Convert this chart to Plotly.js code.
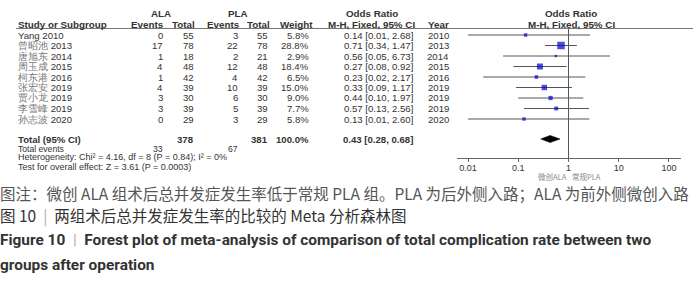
<!DOCTYPE html>
<html>
<head>
<meta charset="utf-8">
<script src="https://cdn.plot.ly/plotly-3.0.1.min.js"></script>
<style>html,body{margin:0;padding:0;background:#fff;}#chart{width:700px;height:282px;}</style>
</head>
<body>
<div id="chart"></div>
<script>
// ---- data ----
const authors    = ['Yang', '曾昭池', '唐旭东', '周玉成', '柯东港', '张宏安', '贾小龙', '李雪峰', '孙志波'];
const studyYears = [2010, 2013, 2014, 2015, 2016, 2019, 2019, 2019, 2020];
const alaEvents  = [0, 17, 1, 4, 1, 4, 3, 3, 0];
const alaTotal   = [55, 78, 18, 48, 42, 39, 30, 39, 29];
const plaEvents  = [3, 22, 2, 12, 4, 10, 6, 5, 3];
const plaTotal   = [55, 78, 21, 48, 42, 39, 30, 39, 29];
const weights    = [5.8, 28.8, 2.9, 18.4, 6.5, 15.0, 9.0, 7.7, 5.8];
const orEst      = [0.14, 0.71, 0.56, 0.27, 0.23, 0.33, 0.44, 0.57, 0.13];
const orLow      = [0.01, 0.34, 0.05, 0.08, 0.02, 0.09, 0.10, 0.13, 0.01];
const orHigh     = [2.68, 1.47, 6.73, 0.92, 2.17, 1.17, 1.97, 2.56, 2.60];
const totalALA   = 378;
const totalPLA   = 381;
const totalWeight = 100.0;
const eventsALA  = 33;
const eventsPLA  = 67;
const pooled     = {est: 0.43, low: 0.28, high: 0.68};
const heterogeneity = 'Heterogeneity: Chi² = 4.16, df = 8 (P = 0.84); I² = 0%';
const overallTest   = 'Test for overall effect: Z = 3.61 (P = 0.0003)';
const tickVals   = [0.01, 0.1, 1, 10, 100];
const tickLabels = ['0.01', '0.1', '1', '10', '100'];
const favourLeft  = '微创ALA';
const favourRight = '常规PLA';
const captionLines = [
  '图注：微创 ALA 组术后总并发症发生率低于常规 PLA 组。PLA 为后外侧入路；ALA 为前外侧微创入路',
  '图 10 &nbsp;<span style="color:#aaa">|</span>&nbsp; 两组术后总并发症发生率的比较的 Meta 分析森林图',
  'Figure 10  <span style="color:#aaa;font-weight:normal">|</span>  Forest plot of meta-analysis of comparison of total complication rate between two',
  'groups after operation'
];

// ---- layout helpers ----
const W = 700, H = 282;
const AXIS_Y = 158;          // pixel row of the x axis
const rowY = i => 35 + i * 10.5;
const TOTAL_Y = 139;
const F = 'Liberation Sans, Arial, sans-serif';
const CJK = 'Noto Sans CJK SC, sans-serif';
const fmt2 = v => v.toFixed(2);
const orText = (e, l, h) => fmt2(e) + ' [' + fmt2(l) + ', ' + fmt2(h) + ']';

const ann = [];
function txt(px, py, text, anchor, size, bold, color, family) {
  ann.push({
    xref: 'paper', yref: 'paper', x: px / W, y: 1 - py / H,
    xanchor: anchor, yanchor: 'middle', showarrow: false,
    text: bold ? '<b>' + text + '</b>' : text,
    font: {family: family || F, size: size || 9.6, color: color || '#333'},
    borderpad: 0, borderwidth: 0
  });
}

// header
txt(161, 14, 'ALA', 'center', 9.8, true);
txt(238, 14, 'PLA', 'center', 9.8, true);
txt(372, 14, 'Odds Ratio', 'center', 9.8, true);
txt(571, 14, 'Odds Ratio', 'center', 9.8, true);
txt(18, 25, 'Study or Subgroup', 'left', 9.8, true);
txt(164, 25, 'Events', 'right', 9.8, true);
txt(195, 25, 'Total', 'right', 9.8, true);
txt(240, 25, 'Events', 'right', 9.8, true);
txt(270, 25, 'Total', 'right', 9.8, true);
txt(313, 25, 'Weight', 'right', 9.8, true);
txt(415, 25, 'M-H, Fixed, 95% CI', 'right', 9.8, true);
txt(449, 25, 'Year', 'right', 9.8, true);
txt(571, 25, 'M-H, Fixed, 95% CI', 'center', 9.8, true);

// study rows
authors.forEach((a, i) => {
  const y = rowY(i);
  const isCJK = /[^\x00-\x7F]/.test(a);
  const name = isCJK
    ? '<span style="color:#777">' + a + '</span> ' + studyYears[i]
    : a + ' ' + studyYears[i];
  txt(18, y, name, 'left', 9.6, false, '#333');
  txt(163, y, String(alaEvents[i]), 'right');
  txt(194, y, String(alaTotal[i]), 'right');
  txt(238, y, String(plaEvents[i]), 'right');
  txt(268, y, String(plaTotal[i]), 'right');
  txt(309, y, weights[i].toFixed(1) + '%', 'right');
  txt(413, y, orText(orEst[i], orLow[i], orHigh[i]), 'right');
  txt(449, y, String(studyYears[i]), 'right');
});

// totals
txt(18, TOTAL_Y, 'Total (95% CI)', 'left', 9.6, true);
txt(194, TOTAL_Y, String(totalALA), 'right', 9.6, true);
txt(268, TOTAL_Y, String(totalPLA), 'right', 9.6, true);
txt(309, TOTAL_Y, totalWeight.toFixed(1) + '%', 'right', 9.6, true);
txt(413, TOTAL_Y, orText(pooled.est, pooled.low, pooled.high), 'right', 9.6, true);
txt(18, 148.5, 'Total events', 'left', 8.6);
txt(163, 148.5, String(eventsALA), 'right', 8.6);
txt(238, 148.5, String(eventsPLA), 'right', 8.6);
txt(18, 157.5, heterogeneity, 'left', 9);
txt(18, 166.5, overallTest, 'left', 9);

// favours labels
txt(567, 176.5, favourLeft, 'right', 7.5, false, '#888', CJK);
txt(572, 176.5, favourRight, 'left', 7.5, false, '#888', CJK);

// caption
txt(0, 192.5, captionLines[0], 'left', 15.5, false, '#555', CJK);
txt(0, 215, captionLines[1], 'left', 15.5, false, '#333', CJK);
txt(0, 240, captionLines[2], 'left', 15.4, true, '#333', 'Roboto, sans-serif');
txt(0, 265, captionLines[3], 'left', 15.4, true, '#333', 'Roboto, sans-serif');

// ---- traces ----
const ciX = [], ciY = [];
orEst.forEach((e, i) => { ciX.push(orLow[i], orHigh[i], null); ciY.push(rowY(i), rowY(i), null); });
const traces = [
  {type: 'scatter', mode: 'lines', x: ciX, y: ciY, line: {color: '#555', width: 1}, hoverinfo: 'skip', cliponaxis: false},
  {type: 'scatter', mode: 'markers', x: orEst, y: orEst.map((e, i) => rowY(i)),
   marker: {symbol: 'square', color: '#0000cc', size: weights.map(w => 1.4 * Math.sqrt(w)), line: {width: 0}}, cliponaxis: false},
  {type: 'scatter', mode: 'lines', fill: 'toself', fillcolor: '#000',
   x: [pooled.low, pooled.est, pooled.high, pooled.est, pooled.low],
   y: [TOTAL_Y, TOTAL_Y - 3.6, TOTAL_Y, TOTAL_Y + 3.6, TOTAL_Y],
   line: {color: '#000', width: 0.5}}
];

const layout = {
  width: W, height: H,
  margin: {l: 0, r: 0, t: 0, b: 0},
  paper_bgcolor: '#fff', plot_bgcolor: 'rgba(0,0,0,0)',
  showlegend: false,
  xaxis: {
    type: 'log', domain: [457 / W, 681 / W], range: [-2.22, 2.24],
    showline: true, linecolor: '#666', linewidth: 1,
    ticks: 'outside', ticklen: 3, tickcolor: '#666', tickwidth: 1,
    ticklabelstandoff: -2,
    tickvals: tickVals, ticktext: tickLabels,
    tickfont: {family: F, size: 9, color: '#333'},
    showgrid: false, zeroline: false, fixedrange: true
  },
  yaxis: {
    domain: [(H - AXIS_Y) / H, 1], range: [AXIS_Y, 0],
    visible: false, showgrid: false, zeroline: false, fixedrange: true
  },
  shapes: [
    {type: 'line', xref: 'x', yref: 'y', x0: 1, x1: 1, y0: 28.5, y1: AXIS_Y, line: {color: '#555', width: 1}},
    {type: 'line', xref: 'paper', yref: 'y', x0: 16 / W, x1: 693 / W, y0: 28.5, y1: 28.5, line: {color: '#777', width: 1}}
  ],
  annotations: ann
};

Plotly.newPlot('chart', traces, layout, {displayModeBar: false, staticPlot: true});
</script>
</body>
</html>
